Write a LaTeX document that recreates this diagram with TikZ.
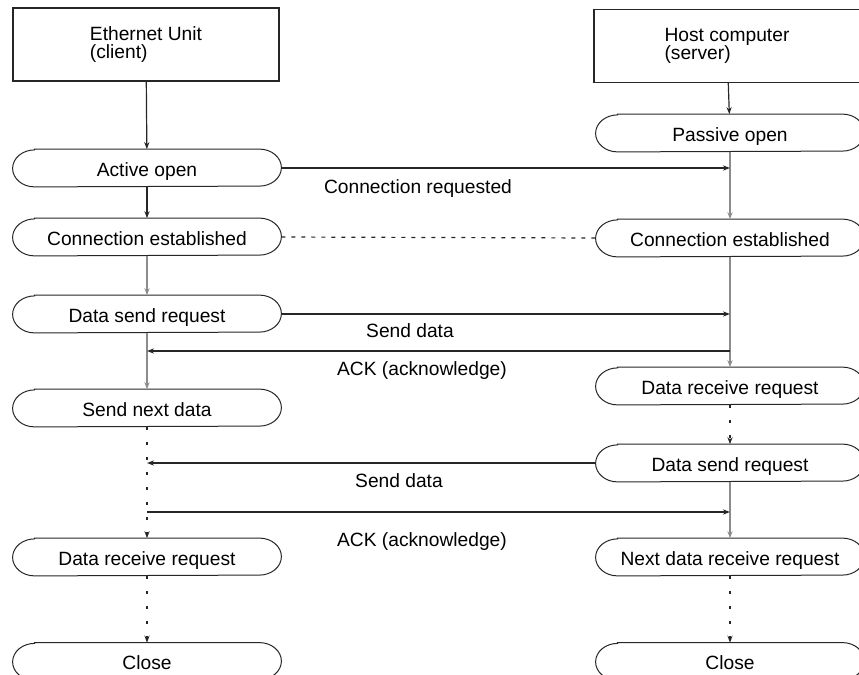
\documentclass[tikz,border=0pt]{standalone}
\usepackage{fontspec}
\setmainfont{Liberation Sans}
\usetikzlibrary{positioning, arrows.meta}

\tikzset{
  unitbox/.style={draw=black!85, line width=0.6pt, minimum width=133pt,
    minimum height=36.5pt, align=left, font=\fontsize{9.6}{9.2}\selectfont},
  stage/.style={minimum width=134pt, minimum height=18.5pt, inner sep=0pt,
    text height=8pt, text depth=0pt, font=\fontsize{9.6}{11}\selectfont},
  stage line/.style={draw=black!85, line width=0.5pt},
  lbl/.style={font=\fontsize{9.6}{11}\selectfont},
  tip/.style={-{Stealth[length=3.5pt,width=2.6pt]}},
  msg/.style={tip, draw=black!85, line width=0.6pt},
  thin flow/.style={tip, draw=black!85, line width=0.6pt},
  main flow/.style={tip, draw=black!45, line width=1.2pt},
  wait flow/.style={tip, draw=black!85, line width=0.7pt, dash pattern=on 1.5pt off 6pt},
  link/.style={draw=black!85, line width=0.6pt, dash pattern=on 2pt off 3pt}
}

\begin{document}
\begin{tikzpicture}[x=0.5pt, y=-0.5pt]

\useasboundingbox (0,0) rectangle (859,675);

% ---------- CLIENT ----------

\node[unitbox] (client) at (146,44.5) {Ethernet Unit\\(client)};
\node[stage] (act)   at (147,168) {Active open};
\node[stage] (lest)  at (147,237) {Connection established};
\node[stage] (lsend) at (147,314) {Data send request};
\node[stage] (lnext) at (147,408) {Send next data};
\node[stage] (lrecv) at (147,557) {Data receive request};
\node[stage] (lclose) at (147,661.5) {Close};

% ---------- SERVER ----------

\node[unitbox] (server) at (727,46) {Host computer\\(server)};
\node[stage] (pas)   at (730,133) {Passive open};
\node[stage] (rest)  at (730,238) {Connection established};
\node[stage] (rrecv) at (730,386) {Data receive request};
\node[stage] (rsend) at (730,463) {Data send request};
\node[stage] (rnext) at (730,557) {Next data receive request};
\node[stage] (rclose) at (730,661.5) {Close};

% outlines: flat top and bottom, half-ellipse ends
\foreach \n in {act,lest,lsend,lnext,lrecv,lclose,pas,rest,rrecv,rsend,rnext,rclose}
  \draw[stage line] ([xshift=11pt]\n.north west) -- ([xshift=-11pt]\n.north east)
    arc[start angle=90, end angle=-90, x radius=11pt, y radius=9.25pt]
    -- ([xshift=11pt]\n.south west)
    arc[start angle=270, end angle=90, x radius=11pt, y radius=9.25pt] -- cycle;

% ---------- FLOW ----------

\draw[thin flow] (client) -- (act);
\draw[thin flow] (act) -- (lest);
\draw[main flow] (lest) -- (lsend);
\draw[main flow] (lsend) -- (lnext);
\draw[wait flow] (lnext) -- (lrecv);
\draw[wait flow] (lrecv) -- (lclose);

\draw[thin flow] (server) -- (pas);
\draw[main flow] (pas) -- (rest);
\draw[main flow] (rest) -- (rrecv);
\draw[wait flow] (rrecv) -- (rsend);
\draw[main flow] (rsend) -- (rnext);
\draw[wait flow] (rnext) -- (rclose);

% ---------- MESSAGES ----------

\coordinate (ackR) at (730,351);
\coordinate (ackL) at (147,351);
\coordinate (ack2L) at (147,512);
\coordinate (ack2R) at (730,512);

\draw[msg] (act.east) -- (pas.south |- act.east);
\draw[link] (lest.east) -- (rest.west);
\draw[msg] (lsend.east) -- (rest.south |- lsend.east);
\draw[msg] (ackR) -- (ackL);
\draw[msg] (rsend.west) -- (lnext.south |- rsend.west);
\draw[msg] (ack2L) -- (ack2R);

\node[lbl] (l1) at (418,189) {Connection requested};
\node[lbl] (l2) at (410,331) {Send data};
\node[lbl] (l3) at (422,371) {ACK (acknowledge)};
\node[lbl] (l4) at (399,481) {Send data};
\node[lbl] (l5) at (422,542) {ACK (acknowledge)};

\end{tikzpicture}
\end{document}
